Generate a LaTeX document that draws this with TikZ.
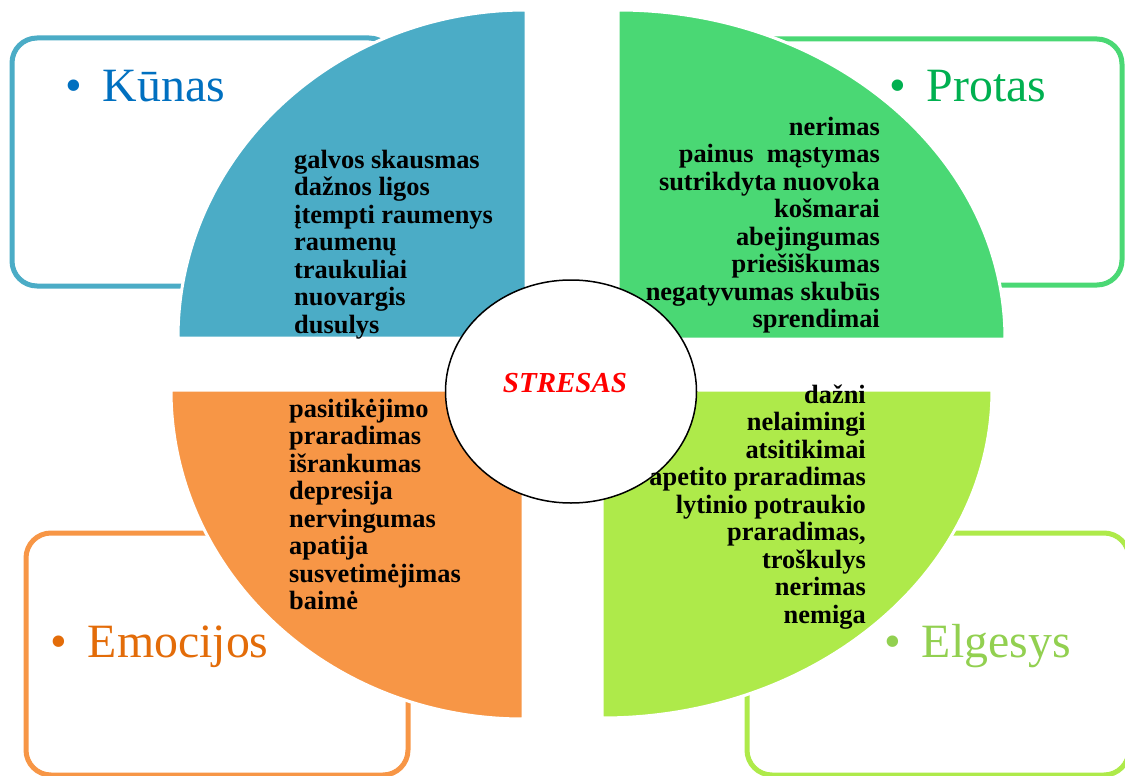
\documentclass[tikz,border=0pt]{standalone}
\usepackage{fontspec}
\setmainfont{Liberation Serif}
\usetikzlibrary{shapes.geometric}
\definecolor{bodyq}{HTML}{4BACC6}
\definecolor{mindq}{HTML}{4AD874}
\definecolor{emoq}{HTML}{F79646}
\definecolor{actq}{HTML}{AEEA4A}
\definecolor{bodyt}{HTML}{0070C0}
\definecolor{mindt}{HTML}{00B050}
\definecolor{emot}{HTML}{E36C09}
\definecolor{actt}{HTML}{92D050}
\tikzset{
  frame/.style={line width=5pt, rounded corners=25pt, fill=white},
  quarter/.style={draw=white, line width=3pt},
  title/.style={inner sep=0pt, font=\fontsize{47.8}{50}\selectfont},
  items/.style={inner sep=0pt, font=\fontsize{26.4}{27.5}\selectfont\bfseries},
}
\newcommand{\bul}{\textbullet\hspace{0.44em}}
\begin{document}
\begin{tikzpicture}[x=1pt,y=-1pt]
\useasboundingbox (0,0) rectangle (1125,776);
\clip (0,0) rectangle (1125,776);
% outline boxes behind the quarters
\draw[frame, draw=bodyq] (12,38) rectangle (394,286);
\draw[frame, draw=mindq] (740,39) rectangle (1122,285);
\draw[frame, draw=emoq] (26,533) rectangle (408,775);
\draw[frame, draw=actq] (747,533) rectangle (1129,775);
% the four quarter ellipses
\path[quarter, fill=bodyq] (526,338) -- (178,338)
  arc[start angle=180, end angle=90, x radius=348pt, y radius=328pt] -- cycle;
\path[quarter, fill=mindq] (618,339) -- (1005,339)
  arc[start angle=0, end angle=90, x radius=387pt, y radius=329pt] -- cycle;
\path[quarter, fill=emoq] (523,390) -- (171,390)
  arc[start angle=180, end angle=270, x radius=352pt, y radius=329pt] -- cycle;
\path[quarter, fill=actq] (602,390) -- (992,390)
  arc[start angle=0, end angle=-90, x radius=390pt, y radius=328pt] -- cycle;
% centre
\node (core) [draw=black, fill=white, line width=1.5pt, ellipse, minimum width=251pt, minimum height=223pt, inner sep=0pt] at (571,391.5) {};
\node (stress) [anchor=base, inner sep=0pt, text=red, font=\fontsize{29}{32}\selectfont\bfseries\itshape] at (565,392) {STRESAS};
% titles
\node (tbody) [title, anchor=base west, text=bodyt] at (65,101) {\bul Kūnas};
\node (tmind) [title, anchor=base west, text=mindt] at (889,102) {\bul Protas};
\node (temo) [title, anchor=base west, text=emot] at (50,657) {\bul Emocijos};
\node (tact) [title, anchor=base west, text=actt] at (884,657) {\bul Elgesys};
% symptom lists (placed by the baseline of their last line)
\node (lbody) [items, anchor=base west, align=left] at (294,333)
  {galvos skausmas\\dažnos ligos\\įtempti raumenys\\raumenų\\traukuliai\\nuovargis\\dusulys};
\node (lmind) [items, anchor=base east, align=right] at (880,327.5)
  {nerimas\\painus\ \ mąstymas\\sutrikdyta nuovoka\\košmarai\\abejingumas\\priešiškumas\\negatyvumas skubūs\\sprendimai};
\node (lemo) [items, anchor=base west, align=left] at (289,609.5)
  {pasitikėjimo\\praradimas\\išrankumas\\depresija\\nervingumas\\apatija\\susvetimėjimas\\baimė};
\node (lact) [items, anchor=base east, align=right] at (866,623)
  {dažni\\nelaimingi\\atsitikimai\\apetito praradimas\\lytinio potraukio\\praradimas,\\troškulys\\nerimas\\nemiga};
\end{tikzpicture}
\end{document}
